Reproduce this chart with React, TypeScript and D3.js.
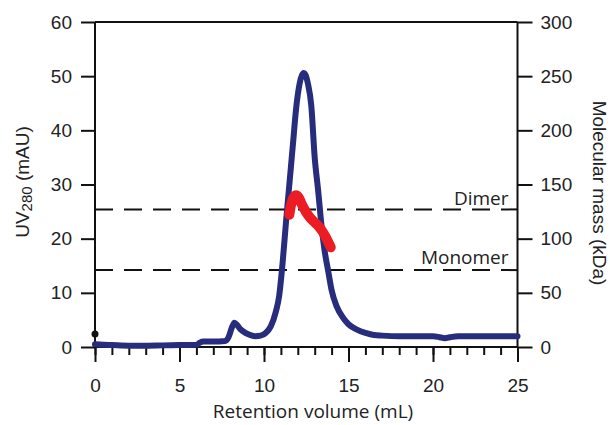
import { useEffect, useRef } from 'react';
import * as d3 from 'd3';

// UV trace (retention volume in mL, absorbance in mAU)
const uvVolume = [
  0, 0.5, 1, 2, 3, 4, 5, 6, 6.2, 6.4, 7, 7.7, 7.9, 8.1, 8.25, 8.4, 8.6, 8.9, 9.2, 9.5, 9.8,
  10.1, 10.4, 10.7, 10.9, 11.1, 11.3, 11.5, 11.7, 11.9, 12.1, 12.25, 12.35, 12.45, 12.6, 12.8,
  13.0, 13.2, 13.4, 13.6, 13.8, 14.0, 14.3, 14.7, 15.0, 15.5, 16.0, 16.5, 17, 18, 19, 20, 20.4,
  20.7, 21, 21.5, 22, 23, 24, 25,
];
const uvAbs = [
  0.5, 0.4, 0.35, 0.25, 0.25, 0.3, 0.35, 0.4, 0.8, 1.0, 1.0, 1.1, 1.8, 3.6, 4.5, 4.1, 3.3, 2.6,
  2.2, 2.0, 2.1, 2.6, 3.8, 6.5, 9.5, 15.5, 23, 30, 37, 44, 48.5, 50.2, 50.6, 50.3, 48.6, 44.5,
  35, 29, 22.5, 17.5, 14, 10.5, 7.5, 5.3, 4.2, 3.2, 2.6, 2.2, 2.1, 2.0, 2.0, 2.0, 1.8, 1.6, 1.8,
  2.0, 2.0, 2.0, 2.0, 2.0,
];

// MALS molar mass across the peak (kDa)
const mwVolume = [11.5, 11.6, 11.75, 11.9, 12.05, 12.2, 12.4, 12.6, 12.8, 13.0, 13.2, 13.4, 13.6, 13.8, 13.95];
const mwMass = [122, 131, 138, 140, 138, 133, 127, 122, 118, 115, 112, 108, 103, 97, 92];

const refLabels = ['Dimer', 'Monomer'];
const refMass = [127, 71];

const injection = { volume: 0, abs: 2.4 };

const xTicks = [0, 5, 10, 15, 20, 25];
const xMinorTicks = d3.range(0, 26, 1);
const uvTicks = [0, 10, 20, 30, 40, 50, 60];
const massTicks = [0, 50, 100, 150, 200, 250, 300];

export default function App() {
  const svgRef = useRef<SVGSVGElement>(null);

  useEffect(() => {
    const svg = d3.select(svgRef.current);
    svg.selectAll('*').remove();

    const width = 610;
    const height = 425;
    const left = 95;
    const right = 517.5;
    const top = 22;
    const bottom = 347;
    const tickFont = 'Liberation Sans, Arial, sans-serif';
    const labelFont = 'Open Sans, sans-serif';

    const x = d3.scaleLinear().domain([0, 25]).range([left, right]);
    const yL = d3.scaleLinear().domain([0, 60]).range([bottom, top]);
    const yR = d3.scaleLinear().domain([0, 300]).range([bottom, top]);

    svg.attr('width', width).attr('height', height);

    const styleAxis = (g) => {
      g.select('.domain').remove();
      g.selectAll('line').attr('stroke', '#111').attr('stroke-width', 2);
      g.selectAll('text')
        .attr('fill', '#222')
        .style('font-family', tickFont)
        .style('font-size', '19px');
    };

    // minor x ticks
    svg
      .append('g')
      .attr('transform', `translate(0,${bottom})`)
      .call(d3.axisBottom(x).tickValues(xMinorTicks).tickSize(8).tickFormat(() => ''))
      .call(styleAxis);

    // major x ticks
    svg
      .append('g')
      .attr('transform', `translate(0,${bottom})`)
      .call(d3.axisBottom(x).tickValues(xTicks).tickSize(15).tickPadding(17))
      .call(styleAxis);

    svg
      .append('g')
      .attr('transform', `translate(${left},0)`)
      .call(d3.axisLeft(yL).tickValues(uvTicks).tickSize(14).tickPadding(9))
      .call(styleAxis);

    svg
      .append('g')
      .attr('transform', `translate(${right},0)`)
      .call(d3.axisRight(yR).tickValues(massTicks).tickSize(15).tickPadding(8))
      .call(styleAxis);

    // frame lines
    const frame = svg.append('g').attr('stroke', '#111').attr('stroke-width', 2);
    frame.append('line').attr('x1', left).attr('x2', right).attr('y1', bottom).attr('y2', bottom);
    frame.append('line').attr('x1', left).attr('x2', right).attr('y1', top).attr('y2', top);
    frame.append('line').attr('x1', left).attr('x2', left).attr('y1', top).attr('y2', bottom);
    frame.append('line').attr('x1', right).attr('x2', right).attr('y1', top).attr('y2', bottom);

    // reference lines
    refMass.forEach((m, i) => {
      svg
        .append('line')
        .attr('x1', left)
        .attr('x2', right)
        .attr('y1', yR(m))
        .attr('y2', yR(m))
        .attr('stroke', '#111')
        .attr('stroke-width', 2)
        .attr('stroke-dasharray', '18,11');
      svg
        .append('text')
        .attr('x', right - 9)
        .attr('y', yR(m) - (i === 0 ? 4 : 6))
        .attr('text-anchor', 'end')
        .attr('fill', '#222')
        .style('font-family', labelFont)
        .style('font-size', '19px')
        .text(refLabels[i]);
    });

    // UV trace
    const uvData = uvVolume.map((v, i) => [v, uvAbs[i]]);
    svg
      .append('path')
      .datum(uvData)
      .attr('fill', 'none')
      .attr('stroke', '#282c7c')
      .attr('stroke-width', 6)
      .attr('stroke-linejoin', 'round')
      .attr('stroke-linecap', 'round')
      .attr(
        'd',
        d3
          .line()
          .x((d) => x(d[0]))
          .y((d) => yL(d[1]))
          .curve(d3.curveMonotoneX)
      );

    // molar mass
    const mwData = mwVolume.map((v, i) => [v, mwMass[i]]);
    svg
      .append('path')
      .datum(mwData)
      .attr('fill', 'none')
      .attr('stroke', '#ec1c24')
      .attr('stroke-width', 10)
      .attr('stroke-linejoin', 'round')
      .attr('stroke-linecap', 'round')
      .attr(
        'd',
        d3
          .line()
          .x((d) => x(d[0]))
          .y((d) => yR(d[1]))
          .curve(d3.curveCatmullRom)
      );

    svg
      .append('circle')
      .attr('cx', x(injection.volume))
      .attr('cy', yL(injection.abs))
      .attr('r', 3.5)
      .attr('fill', '#111');

    // axis titles
    const uvTitle = svg
      .append('text')
      .attr('transform', 'translate(29,182) rotate(-90)')
      .attr('text-anchor', 'middle')
      .attr('fill', '#222')
      .style('font-family', tickFont)
      .style('font-size', '19px');
    uvTitle.append('tspan').text('UV');
    uvTitle.append('tspan').attr('dy', 3).style('font-size', '15px').text('280');
    uvTitle.append('tspan').attr('dy', -3).text(' (mAU)');

    svg
      .append('text')
      .attr('transform', 'translate(593,193) rotate(90)')
      .attr('text-anchor', 'middle')
      .attr('fill', '#222')
      .style('font-family', tickFont)
      .style('font-size', '19px')
      .text('Molecular mass (kDa)');

    svg
      .append('text')
      .attr('x', 313)
      .attr('y', 418)
      .attr('text-anchor', 'middle')
      .attr('fill', '#222')
      .style('font-family', labelFont)
      .style('font-size', '19px')
      .text('Retention volume (mL)');
  }, []);

  return (
    <svg
      ref={svgRef}
      style={{ position: 'absolute', left: 0, top: 0, background: '#fff' }}
    ></svg>
  );
}
